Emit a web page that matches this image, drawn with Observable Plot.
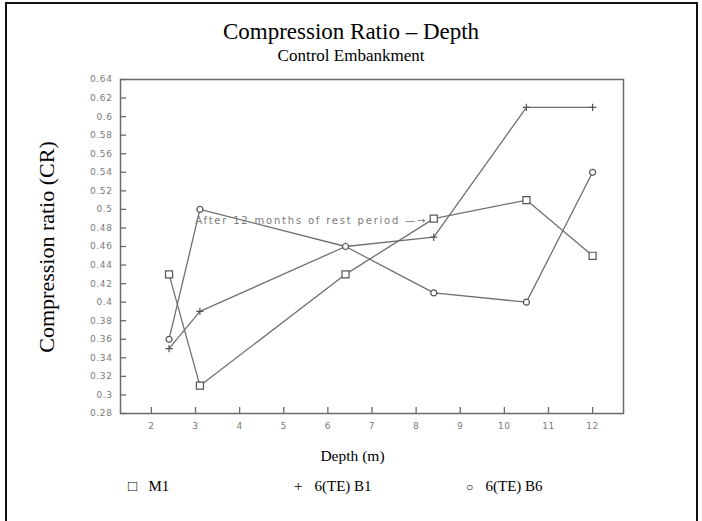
<!DOCTYPE html>
<html>
<head>
<meta charset="utf-8">
<script src="https://cdn.jsdelivr.net/npm/d3@7"></script>
<script src="https://cdn.jsdelivr.net/npm/@observablehq/plot@0.6"></script>
<style>
  body { margin: 0; background: #fff; }
  #wrap { position: relative; width: 702px; height: 521px; overflow: hidden; background: #fff; }
  .frame { position: absolute; left: 5px; top: 2px; width: 689px; height: 530px; border: 2px solid #111; }
  .t { position: absolute; font-family: "Liberation Serif", "Times New Roman", serif; color: #000; white-space: nowrap; }
  #chart { position: absolute; left: 0; top: 0; }
  #chart svg text { letter-spacing: 0.6px; }
  #chart svg g[aria-label="text"] text { letter-spacing: 1.8px; }
  .leg { position: absolute; top: 478px; font-family: "Liberation Serif", serif; font-size: 15px; white-space: nowrap; }
</style>
</head>
<body>
<div id="wrap">
  <div class="frame"></div>
  <div id="chart"></div>
  <div class="t" style="left:0;width:702px;text-align:center;top:19px;font-size:23px;">Compression Ratio – Depth</div>
  <div class="t" style="left:0;width:702px;text-align:center;top:46px;font-size:17px;">Control Embankment</div>
  <div class="t" style="left:47px;top:247px;font-size:22px;transform:translate(-50%,-50%) rotate(-90deg);">Compression ratio (CR)</div>
  <div class="t" style="left:0;width:705px;text-align:center;top:447px;font-size:15.5px;">Depth (m)</div>
  <div id="legend"></div>
</div>
<script>
const depths = [2.4, 3.1, 6.4, 8.4, 10.5, 12.0];
const seriesNames = ["M1", "6(TE) B1", "6(TE) B6"];
const m1Values = [0.43, 0.31, 0.43, 0.49, 0.51, 0.45];
const b1Values = [0.35, 0.39, 0.46, 0.47, 0.61, 0.61];
const b6Values = [0.36, 0.50, 0.46, 0.41, 0.40, 0.54];
const xTicks = [2, 3, 4, 5, 6, 7, 8, 9, 10, 11, 12];
const yTicks = [0.28, 0.3, 0.32, 0.34, 0.36, 0.38, 0.4, 0.42, 0.44, 0.46, 0.48, 0.5, 0.52, 0.54, 0.56, 0.58, 0.6, 0.62, 0.64];
const annotation = {depth: 8.25, value: 0.49, text: "After 12 months of rest period —→"};

const symbols = ["square", "plus", "circle"];
const radii = [4, 2.5, 3];
const allValues = [m1Values, b1Values, b6Values];
const rows = [];
allValues.forEach((vals, i) => vals.forEach((v, j) => rows.push({series: seriesNames[i], depth: depths[j], value: v})));

const lineColor = "#707070";
const axisColor = "#6a6a6a";
const labelColor = "#7a7a7a";

const marks = [
  Plot.frame({stroke: axisColor, strokeWidth: 1.5}),
  Plot.axisX(xTicks, {tickSize: -6, stroke: axisColor, strokeWidth: 1.3, text: null, label: null}),
  Plot.axisX(xTicks, {tickSize: 0, tickPadding: 9, fill: labelColor, fontSize: 9, fontFamily: "DejaVu Sans", label: null}),
  Plot.axisY(yTicks, {tickSize: -6, stroke: axisColor, strokeWidth: 1.3, text: null, label: null}),
  Plot.axisY(yTicks, {tickSize: 0, tickPadding: 8, fill: labelColor, fontSize: 9, fontFamily: "DejaVu Sans", label: null,
    tickFormat: d => String(+d.toFixed(2))}),
];
seriesNames.forEach((s, i) => {
  const data = rows.filter(r => r.series === s);
  marks.push(Plot.line(data, {x: "depth", y: "value", stroke: lineColor, strokeWidth: 1.3}));
  marks.push(Plot.dot(data, {x: "depth", y: "value", symbol: () => symbols[i], r: radii[i], stroke: "#555", strokeWidth: 1.2, fill: i === 1 ? "#555" : "#fff"}));
});
marks.push(Plot.text([annotation], {x: "depth", y: "value", text: "text", textAnchor: "end", lineAnchor: "middle", dy: 2,
  fill: labelColor, fontSize: 10, fontFamily: "DejaVu Sans"}));

const chart = Plot.plot({
  width: 702,
  height: 521,
  marginLeft: 120,
  marginRight: 79,
  marginTop: 79,
  marginBottom: 108,
  style: {background: "transparent"},
  x: {domain: [1.3, 12.7], axis: null},
  y: {domain: [0.28, 0.64], axis: null},
  marks
});
document.getElementById("chart").appendChild(chart);

const legend = document.getElementById("legend");
const legX = [128, 294, 466];
const legSym = ["□", "+", "○"];
seriesNames.forEach((s, i) => {
  const d = document.createElement("div");
  d.className = "leg";
  d.style.left = legX[i] + "px";
  d.innerHTML = `<span style="display:inline-block;width:${i===2?12:13}px;font-size:${i===2?12:15}px">${legSym[i]}</span>&nbsp;&nbsp;${s}`;
  legend.appendChild(d);
});
</script>
</body>
</html>
